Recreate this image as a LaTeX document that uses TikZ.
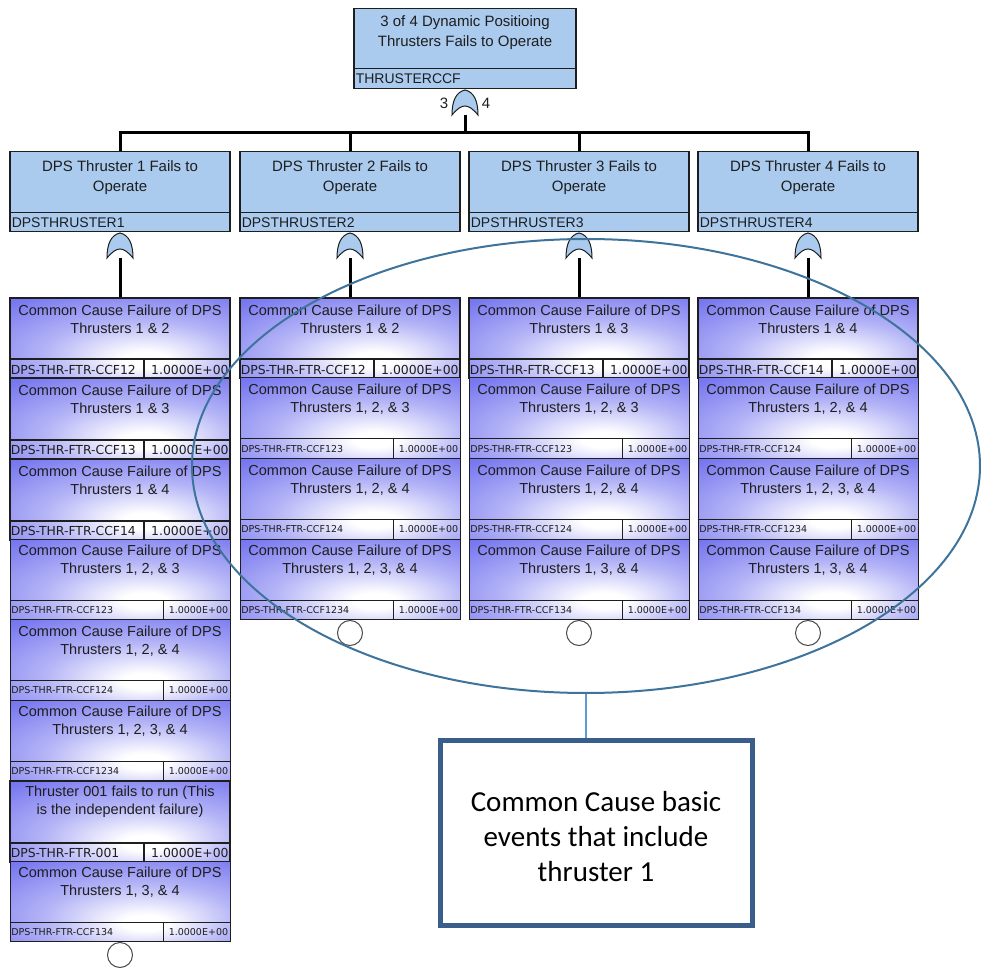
\documentclass[tikz,border=0pt]{standalone}
\usepackage{fontspec}
\setmainfont{Liberation Sans}
\newfontfamily\callfont{Carlito}
\newfontfamily\idfont{DejaVu Sans}
\usetikzlibrary{shapes.geometric,calc}

\definecolor{boxblue}{RGB}{170,202,238}
\definecolor{evblue}{RGB}{118,118,240}
\definecolor{ringblue}{RGB}{62,116,156}
\definecolor{callblue}{RGB}{58,94,140}
\definecolor{linkblue}{RGB}{91,155,213}
\definecolor{ink}{RGB}{30,30,30}

% basic event fill: pale centre low and right of middle, blue towards the edges
\pgfdeclareradialshading{evshade}{\pgfpoint{6bp}{-14bp}}{%
  color(0bp)=(white); color(5bp)=(white); color(22bp)=(white!45!evblue);
  color(42bp)=(evblue); color(100bp)=(evblue)}

\tikzset{
  x=0.5pt, y=-0.5pt,
  gatebox/.style={draw=ink, line width=0.6pt, fill=boxblue, minimum width=110pt,
    minimum height=40pt, inner sep=0pt, anchor=north},
  gatetext/.style={text=ink, align=center, font=\fontsize{7.5}{10}\selectfont, inner sep=0pt},
  gateid/.style={text=ink, anchor=west, font=\fontsize{7}{8}\selectfont, inner sep=0pt},
  gatenode/.style={minimum width=13pt, minimum height=12.5pt, inner sep=0pt, anchor=south},
  gatefill/.style={draw=ink, line width=0.5pt, fill=boxblue},
  evbody/.style={minimum width=110pt, minimum height=40.25pt, inner sep=0pt, anchor=north,
    shade, shading=evshade},
  evtext/.style={text=ink, align=center, font=\fontsize{7.25}{9}\selectfont, inner sep=0pt},
  bigev/.style={draw=ink, line width=1pt},
  smallev/.style={draw=ink, line width=0.5pt},
  bigev id/.style={text=ink, inner sep=0pt, font=\idfont\fontsize{6.2}{7}\selectfont},
  smallev id/.style={text=ink, inner sep=0pt, font=\idfont\fontsize{4.75}{6}\selectfont},
  wire/.style={line width=1.5pt, black},
  endcircle/.style={circle, draw=ink!80, line width=0.5pt, fill=white, minimum size=12.5pt,
    inner sep=0pt, anchor=north},
  ring/.style={ellipse, draw=ringblue, line width=1pt, minimum width=394pt,
    minimum height=227pt, inner sep=0pt},
  callout/.style={draw=callblue, line width=2.5pt, fill=white, minimum width=156pt,
    minimum height=92.5pt},
  callouttext/.style={align=center, text=black, inner sep=0pt,
    font=\callfont\fontsize{14.5}{17.5}\selectfont},
  link/.style={draw=linkblue, line width=1pt}
}

% gate box: name, centre x, top y, text, identifier
\newcommand\gatebox[5]{%
  \node[gatebox] (#1) at (#2,#3) {};
  \draw[ink, line width=0.6pt] ([yshift=10pt]#1.south west) -- ([yshift=10pt]#1.south east);
  \node[gatetext] (#1-t) at ([yshift=-13.25pt]#1.north) {#4};
  \node[gateid] (#1-id) at ([xshift=1pt,yshift=5pt]#1.south west) {#5};
}

% OR gate symbol: name, centre x, bottom y
\newcommand\orgate[3]{%
  \node[gatenode] (#1) at (#2,#3) {};
  \begin{scope}[shift={(#2,#3)}]
    \draw[gatefill] (-13,0) .. controls (-13,-14) and (-9,-23) .. (0,-25)
      .. controls (9,-23) and (13,-14) .. (13,0)
      .. controls (8,-6) and (4,-9) .. (0,-9)
      .. controls (-4,-9) and (-8,-6) .. cycle;
  \end{scope}}

% basic event: name, centre x, top y, text, identifier, split offset, variant
\newcommand\ftevent[7]{%
  \node[evbody,#7] (#1) at (#2,#3) {};
  \draw[#7] ([yshift=10pt]#1.south west) -- ([yshift=10pt]#1.south east);
  \draw[#7] ([xshift=#6,yshift=10pt]#1.south west) -- ([xshift=#6]#1.south west);
  \node[evtext] (#1-t) at ([yshift=-11pt]#1.north) {#4};
  \node[#7 id, anchor=west] (#1-id) at ([xshift=0.7pt,yshift=5pt]#1.south west) {#5};
  \node[#7 id, anchor=east] (#1-p) at ([xshift=-1pt,yshift=5pt]#1.south east) {1.0000E+00};
}
\newcommand\bigevent[5]{\ftevent{#1}{#2}{#3}{#4}{#5}{67.5pt}{bigev}}
\newcommand\smallevent[5]{\ftevent{#1}{#2}{#3}{#4}{#5}{77pt}{smallev}}

\begin{document}
\begin{tikzpicture}
  \useasboundingbox (0,0) rectangle (981,968);
  \fill[white] (0,0) rectangle (981,968);

  % top event and its 3-of-4 gate
  \node[gatebox, minimum width=111pt] (top) at (465,8) {};
  \draw[ink, line width=0.6pt] ([yshift=10.5pt]top.south west) -- ([yshift=10.5pt]top.south east);
  \node[gatetext] (top-t) at ([yshift=-12.5pt]top.north) {3 of 4 Dynamic Positioing\\Thrusters Fails to Operate};
  \node[gateid] (top-id) at ([xshift=1pt,yshift=5.2pt]top.south west) {THRUSTERCCF};
  \orgate{g0}{465}{115}
  \node[gatetext, font=\fontsize{7.5}{8}\selectfont] (vote-k) at (444,103) {3};
  \node[gatetext, font=\fontsize{7.5}{8}\selectfont] (vote-n) at (486,103) {4};
  \coordinate (bus) at (465,133);

  % thruster gates
  \gatebox{t1}{120}{151}{DPS Thruster 1 Fails to\\Operate}{DPSTHRUSTER1}
  \gatebox{t2}{350}{151}{DPS Thruster 2 Fails to\\Operate}{DPSTHRUSTER2}
  \gatebox{t3}{579}{151}{DPS Thruster 3 Fails to\\Operate}{DPSTHRUSTER3}
  \gatebox{t4}{808}{151}{DPS Thruster 4 Fails to\\Operate}{DPSTHRUSTER4}
  \orgate{g1}{120}{258}
  \orgate{g2}{350}{258}
  \orgate{g3}{579}{258}
  \orgate{g4}{808}{258}

  \draw[wire] (g0.south) -- (bus);
  \foreach \t in {t1,t2,t3,t4} \draw[wire] (\t.north) |- (bus);

  % thruster 1 events
  \bigevent{a1}{120}{297}{Common Cause Failure of DPS\\Thrusters 1 \& 2}{DPS-THR-FTR-CCF12}
  \bigevent{a2}{120}{377.5}{Common Cause Failure of DPS\\Thrusters 1 \& 3}{DPS-THR-FTR-CCF13}
  \bigevent{a3}{120}{458}{Common Cause Failure of DPS\\Thrusters 1 \& 4}{DPS-THR-FTR-CCF14}
  \smallevent{a4}{120}{538.5}{Common Cause Failure of DPS\\Thrusters 1, 2, \& 3}{DPS-THR-FTR-CCF123}
  \smallevent{a5}{120}{619}{Common Cause Failure of DPS\\Thrusters 1, 2, \& 4}{DPS-THR-FTR-CCF124}
  \smallevent{a6}{120}{699.5}{Common Cause Failure of DPS\\Thrusters 1, 2, 3, \& 4}{DPS-THR-FTR-CCF1234}
  \bigevent{a7}{120}{780}{Thruster 001 fails to run (This\\is the independent failure)}{DPS-THR-FTR-001}
  \smallevent{a8}{120}{860.5}{Common Cause Failure of DPS\\Thrusters 1, 3, \& 4}{DPS-THR-FTR-CCF134}
  \node[endcircle] (a-end) at (a8.south) {};

  % thruster 2 events
  \bigevent{b1}{350}{297}{Common Cause Failure of DPS\\Thrusters 1 \& 2}{DPS-THR-FTR-CCF12}
  \smallevent{b2}{350}{377.5}{Common Cause Failure of DPS\\Thrusters 1, 2, \& 3}{DPS-THR-FTR-CCF123}
  \smallevent{b3}{350}{458}{Common Cause Failure of DPS\\Thrusters 1, 2, \& 4}{DPS-THR-FTR-CCF124}
  \smallevent{b4}{350}{538.5}{Common Cause Failure of DPS\\Thrusters 1, 2, 3, \& 4}{DPS-THR-FTR-CCF1234}
  \node[endcircle] (b-end) at (b4.south) {};

  % thruster 3 events
  \bigevent{c1}{579}{297}{Common Cause Failure of DPS\\Thrusters 1 \& 3}{DPS-THR-FTR-CCF13}
  \smallevent{c2}{579}{377.5}{Common Cause Failure of DPS\\Thrusters 1, 2, \& 3}{DPS-THR-FTR-CCF123}
  \smallevent{c3}{579}{458}{Common Cause Failure of DPS\\Thrusters 1, 2, \& 4}{DPS-THR-FTR-CCF124}
  \smallevent{c4}{579}{538.5}{Common Cause Failure of DPS\\Thrusters 1, 3, \& 4}{DPS-THR-FTR-CCF134}
  \node[endcircle] (c-end) at (c4.south) {};

  % thruster 4 events
  \bigevent{d1}{808}{297}{Common Cause Failure of DPS\\Thrusters 1 \& 4}{DPS-THR-FTR-CCF14}
  \smallevent{d2}{808}{377.5}{Common Cause Failure of DPS\\Thrusters 1, 2, \& 4}{DPS-THR-FTR-CCF124}
  \smallevent{d3}{808}{458}{Common Cause Failure of DPS\\Thrusters 1, 2, 3, \& 4}{DPS-THR-FTR-CCF1234}
  \smallevent{d4}{808}{538.5}{Common Cause Failure of DPS\\Thrusters 1, 3, \& 4}{DPS-THR-FTR-CCF134}
  \node[endcircle] (d-end) at (d4.south) {};

  \draw[wire] (g1.south) -- (a1.north);
  \draw[wire] (g2.south) -- (b1.north);
  \draw[wire] (g3.south) -- (c1.north);
  \draw[wire] (g4.south) -- (d1.north);

  % annotation
  \node[ring] (ring) at (586,466) {};
  \node[callout] (note) at (596,832.5) {};
  \node[callouttext] (note-t) at (596,837) {Common Cause basic\\events that include\\thruster 1};
  \draw[link] (ring.south) -- (ring.south |- note.north);
\end{tikzpicture}
\end{document}
